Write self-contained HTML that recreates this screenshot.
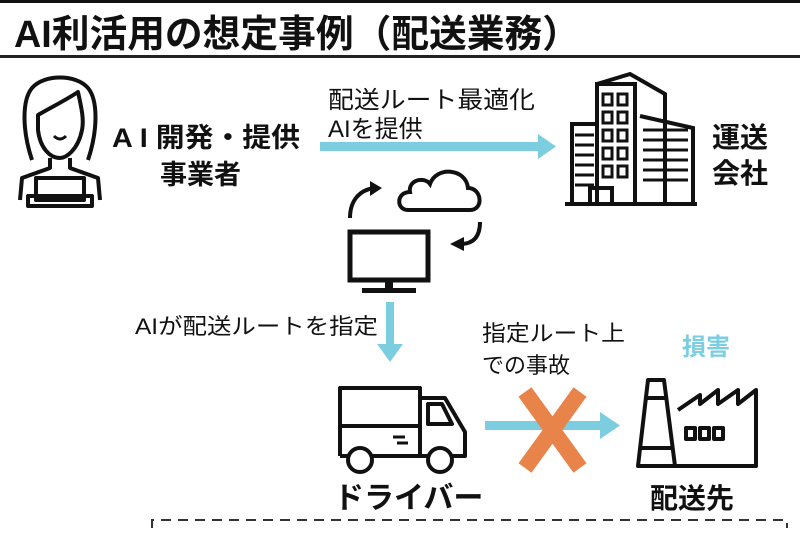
<!DOCTYPE html>
<html><head><meta charset="utf-8"><style>
html,body{margin:0;padding:0;background:#fff;}
svg{display:block;}
text{font-family:"Liberation Sans","Noto Sans CJK JP",sans-serif;fill:#111;}
</style></head><body>
<svg width="800" height="533" viewBox="0 0 800 533" xmlns="http://www.w3.org/2000/svg">
<rect x="0" y="0" width="800" height="3" fill="#111"/>
<text x="14" y="47" font-size="38" font-weight="bold" textLength="566" lengthAdjust="spacingAndGlyphs">AI利活用の想定事例（配送業務）</text>
<rect x="0" y="55" width="800" height="3" fill="#222"/>

<g fill="none" stroke="#111" stroke-width="4" stroke-linejoin="round">
<path d="M32 160 C22 130 22 100 32 88 C44 74 76 74 88 88 C98 100 98 130 88 160"/>
<path d="M38 115 C50 108 66 100 78 92 C82 110 84 120 82 130 C78 150 66 158 60 158 C50 158 40 148 38 130 Z"/>
<path d="M50 158 L50 168 L22 178 L20 200 M70 158 L70 168 L98 178 L100 200"/>
<rect x="36" y="178" width="48" height="22"/>
<rect x="28" y="196" width="64" height="10"/>
</g>
<path d="M54 136 Q60 142 66 136" stroke="#111" stroke-width="3" fill="none"/>

<text x="112" y="147" font-size="27" font-weight="bold" textLength="188" lengthAdjust="spacingAndGlyphs">A I 開発・提供</text>
<text x="160" y="184" font-size="27" font-weight="bold">事業者</text>
<text x="328" y="108" font-size="24" textLength="207" lengthAdjust="spacingAndGlyphs">配送ルート最適化</text>
<text x="328" y="137" font-size="24">AIを提供</text>
<rect x="320" y="142" width="222" height="9" fill="#7ccde0"/>
<polygon points="538,134 556,146.5 538,159" fill="#7ccde0"/>

<g fill="none" stroke="#111" stroke-width="4">
<rect x="597" y="84" width="38" height="120"/>
<path d="M597 84 L630 74 L665 94 L665 204"/>
<path d="M640 116 L693 128 L693 204"/>
<rect x="572" y="124" width="25" height="80"/>
<line x1="565" y1="204" x2="697" y2="204"/>
<rect x="590" y="188" width="22" height="16"/>
</g>
<g fill="none" stroke="#111" stroke-width="3">
<rect x="603" y="94" width="9" height="11"/><rect x="618" y="94" width="9" height="11"/>
<rect x="603" y="112" width="9" height="11"/><rect x="618" y="112" width="9" height="11"/>
<rect x="603" y="130" width="9" height="11"/><rect x="618" y="130" width="9" height="11"/>
<rect x="603" y="148" width="9" height="11"/><rect x="618" y="148" width="9" height="11"/>
<rect x="603" y="166" width="9" height="11"/><rect x="618" y="166" width="9" height="11"/>
<path d="M643 130 H688 M643 140 H688 M643 150 H688 M643 160 H688 M643 170 H688 M643 180 H688"/>
<path d="M575 135 H594 M575 145 H594 M575 155 H594 M575 165 H594 M575 175 H594 M575 185 H594"/>
</g>
<text x="712" y="147" font-size="28" font-weight="bold">運送</text>
<text x="712" y="183" font-size="28" font-weight="bold">会社</text>

<path d="M408 210 C396 210 396 192 410 192 C408 180 424 176 430 184 C436 166 466 168 468 188 C482 188 484 210 470 210 Z" fill="none" stroke="#111" stroke-width="4"/>
<path d="M350 218 C350 200 360 190 374 188" fill="none" stroke="#111" stroke-width="4"/>
<polygon points="370,181 382,188 370,196" fill="#111"/>
<path d="M480 222 C480 236 474 244 460 244" fill="none" stroke="#111" stroke-width="4"/>
<polygon points="464,237 450,244 464,251" fill="#111"/>
<rect x="350" y="232" width="78" height="48" fill="none" stroke="#111" stroke-width="5"/>
<rect x="385" y="280" width="8" height="10" fill="#111"/>
<rect x="362" y="288" width="54" height="5" fill="#111"/>

<rect x="386" y="302" width="8" height="44" fill="#7ccde0"/>
<polygon points="377,344 403,344 390,362" fill="#7ccde0"/>
<text x="135" y="334" font-size="22" textLength="243" lengthAdjust="spacingAndGlyphs">AIが配送ルートを指定</text>

<g fill="none" stroke="#111" stroke-width="4" stroke-linejoin="round">
<path d="M340 456 L340 388 L420 388 L420 456"/>
<path d="M340 426 H420"/>
<path d="M420 398 L445 398 L465 432 L465 456 L340 456"/>
<path d="M428 404 L442 404 L452 424 L428 424 Z"/>
<circle cx="360" cy="460" r="12" fill="#fff"/>
<circle cx="440" cy="460" r="12" fill="#fff"/>
</g>
<path d="M393 437 H405 M397 443 H408" stroke="#111" stroke-width="3"/>
<text x="334" y="508" font-size="30" font-weight="bold">ドライバー</text>

<text x="482" y="341" font-size="22" textLength="143" lengthAdjust="spacingAndGlyphs">指定ルート上</text>
<text x="482" y="373" font-size="22">での事故</text>
<rect x="485" y="421" width="118" height="9" fill="#7ccde0"/>
<polygon points="600,412 620,425.5 600,439" fill="#7ccde0"/>
<g stroke="#e8834a" stroke-width="16" stroke-linecap="butt">
<line x1="525" y1="392" x2="580" y2="468"/>
<line x1="580" y1="392" x2="525" y2="468"/>
</g>
<text x="682" y="355" font-size="24" font-weight="bold" style="fill:#7ccde0">損害</text>

<g fill="none" stroke="#111" stroke-width="4" stroke-linejoin="round">
<path d="M648 380 L664 380 L675 466 L638 466 Z"/>
<path d="M644 398 H667"/>
<path d="M640 448 H673"/>
<path d="M675 466 L756 466 L756 390 L738 404 L738 390 L718 404 L718 390 L700 404 L700 395 L678 410"/>
<rect x="686" y="428" width="9" height="11"/><rect x="700" y="428" width="9" height="11"/><rect x="714" y="428" width="9" height="11"/>
</g>
<text x="650" y="508" font-size="28" font-weight="bold">配送先</text>

<path d="M152 528 L152 520 L787 520 L787 528" fill="none" stroke="#333" stroke-width="2" stroke-dasharray="10,7"/>
</svg>
</body></html>
